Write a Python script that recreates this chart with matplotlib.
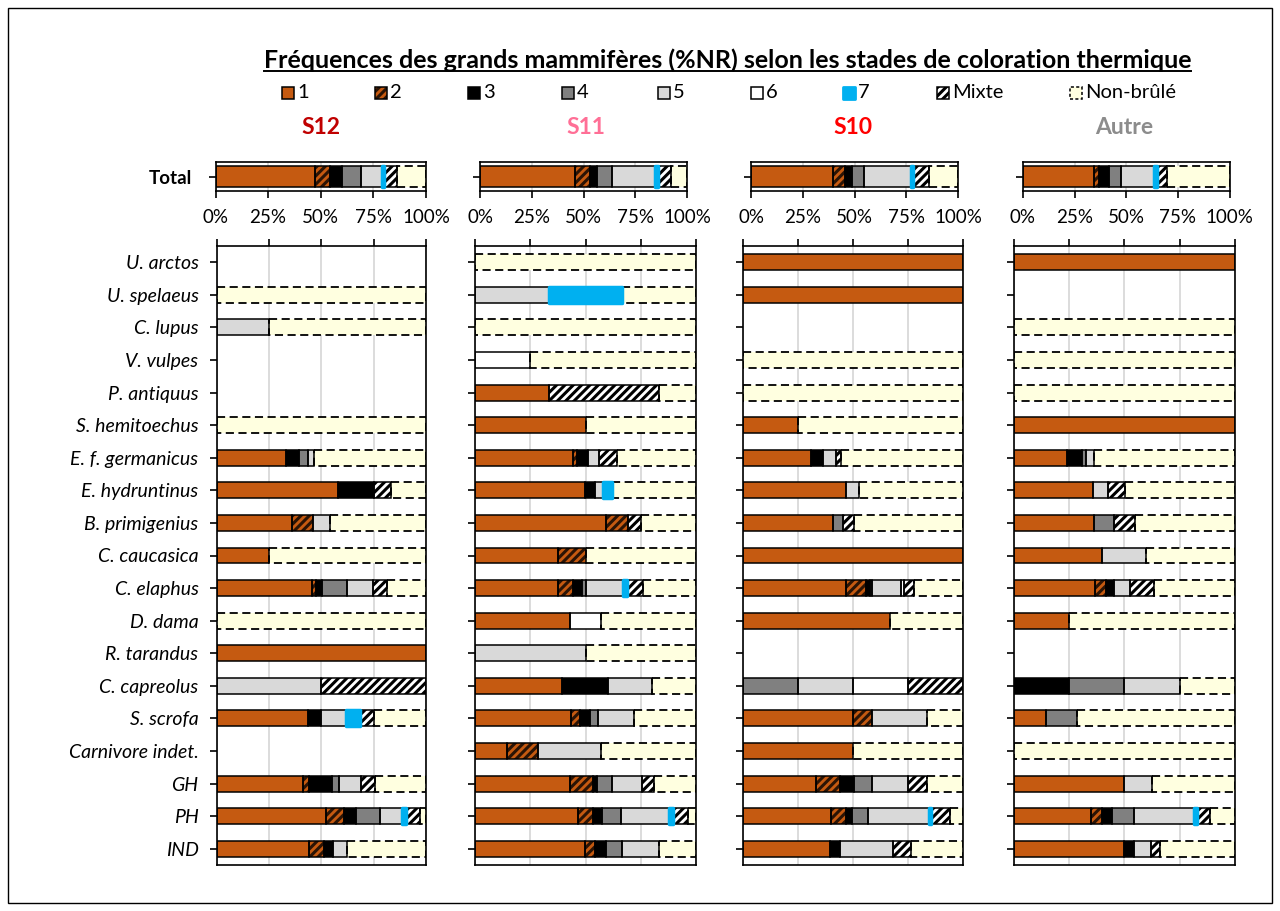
import numpy as np
import matplotlib
matplotlib.use('Agg')
import matplotlib.pyplot as plt
from matplotlib.patches import Rectangle
from matplotlib.lines import Line2D

plt.rcParams['font.family'] = ['Lato', 'DejaVu Sans']
plt.rcParams['hatch.linewidth'] = 2.2

# Stades de coloration thermique
stages = ['1', '2', '3', '4', '5', '6', '7', 'Mixte', 'Non-brûlé']

taxa = ['U. arctos', 'U. spelaeus', 'C. lupus', 'V. vulpes', 'P. antiquus',
        'S. hemitoechus', 'E. f. germanicus', 'E. hydruntinus', 'B. primigenius',
        'C. caucasica', 'C. elaphus', 'D. dama', 'R. tarandus', 'C. capreolus',
        'S. scrofa', 'Carnivore indet.', 'GH', 'PH', 'IND']

panels = ['S12', 'S11', 'S10', 'Autre']
panel_colors = ['#C00000', '#FF6F96', '#FF0000', '#8C8C8C']

# %NR par stade : 1, 2, 3, 4, 5, 6, 7, Mixte, Non-brûlé
total_s12 = [47.5, 7.0, 5.6, 9.0, 9.8, 0, 1.3, 6.1, 13.7]
total_s11 = [45.7, 7.2, 3.7, 7.2, 20.5, 0, 1.7, 6.0, 8.0]
total_s10 = [39.6, 5.8, 3.3, 5.8, 22.9, 0, 1.0, 7.5, 14.1]
total_autre = [34.5, 2.2, 5.0, 5.8, 15.8, 0, 1.7, 4.7, 30.3]

s12 = [
    [0, 0, 0, 0, 0, 0, 0, 0, 0],
    [0, 0, 0, 0, 0, 0, 0, 0, 100],
    [0, 0, 0, 0, 25, 0, 0, 0, 75],
    [0, 0, 0, 0, 0, 0, 0, 0, 0],
    [0, 0, 0, 0, 0, 0, 0, 0, 0],
    [0, 0, 0, 0, 0, 0, 0, 0, 100],
    [33.3, 0, 6.1, 4.5, 2.6, 0, 0, 0, 53.5],
    [57.9, 0, 17.5, 0, 0, 0, 0, 7.9, 16.7],
    [36.1, 9.8, 0, 0, 8.2, 0, 0, 0, 45.9],
    [25, 0, 0, 0, 0, 0, 0, 0, 75],
    [45.5, 1.9, 2.9, 12.0, 12.4, 0, 0, 6.7, 18.6],
    [0, 0, 0, 0, 0, 0, 0, 0, 100],
    [100, 0, 0, 0, 0, 0, 0, 0, 0],
    [0, 0, 0, 0, 50, 0, 0, 50, 0],
    [43.5, 0, 6.5, 0, 12.0, 0, 6.5, 6.5, 25],
    [0, 0, 0, 0, 0, 0, 0, 0, 0],
    [41.1, 3.2, 11.0, 3.3, 10.2, 0, 0, 6.9, 24.3],
    [52.2, 8.5, 6.1, 11.2, 10.7, 0, 1.6, 6.9, 2.8],
    [44.0, 7.3, 4.5, 0, 6.7, 0, 0, 0, 37.5],
]

s11 = [
    [0, 0, 0, 0, 0, 0, 0, 0, 100],
    [0, 0, 0, 0, 33.3, 0, 33.3, 0, 33.4],
    [0, 0, 0, 0, 0, 0, 0, 0, 100],
    [0, 0, 0, 0, 0, 25, 0, 0, 75],
    [33.3, 0, 0, 0, 0, 0, 0, 50, 16.7],
    [50, 0, 0, 0, 0, 0, 0, 0, 50],
    [44.4, 1.8, 5.0, 0, 4.7, 0, 0, 8.5, 35.6],
    [49.7, 0, 4.5, 0, 3.8, 0, 4.2, 0, 37.8],
    [59.5, 9.8, 0, 0, 0, 0, 0, 5.8, 24.9],
    [37.5, 12.5, 0, 0, 0, 0, 0, 0, 50],
    [37.6, 6.8, 4.2, 1.5, 17.0, 0, 1.5, 7.3, 24.1],
    [42.9, 0, 0, 0, 0, 14.3, 0, 0, 42.8],
    [0, 0, 0, 0, 50, 0, 0, 0, 50],
    [39.4, 0, 20.9, 0, 19.7, 0, 0, 0, 20],
    [43.6, 3.8, 4.5, 3.8, 16.2, 0, 0, 0, 28.1],
    [14.3, 14.3, 0, 0, 28.6, 0, 0, 0, 42.8],
    [42.9, 10.6, 1.5, 7.1, 13.6, 0, 0, 5.5, 18.8],
    [46.4, 7.1, 3.8, 8.8, 21.5, 0, 1.8, 7.0, 3.6],
    [49.7, 4.5, 5.3, 7.1, 16.7, 0, 0, 0, 16.7],
]

s10 = [
    [100, 0, 0, 0, 0, 0, 0, 0, 0],
    [100, 0, 0, 0, 0, 0, 0, 0, 0],
    [0, 0, 0, 0, 0, 0, 0, 0, 0],
    [0, 0, 0, 0, 0, 0, 0, 0, 100],
    [0, 0, 0, 0, 0, 0, 0, 0, 100],
    [25, 0, 0, 0, 0, 0, 0, 0, 75],
    [30.7, 0, 5.5, 0, 6.1, 0, 0, 2.1, 55.6],
    [46.8, 0, 0, 0, 5.6, 0, 0, 0, 47.6],
    [40.7, 0, 0, 4.6, 0, 0, 0, 4.9, 49.8],
    [100, 0, 0, 0, 0, 0, 0, 0, 0],
    [46.8, 9.1, 1.5, 1.2, 13.1, 1.5, 0, 4.3, 22.5],
    [66.7, 0, 0, 0, 0, 0, 0, 0, 33.3],
    [0, 0, 0, 0, 0, 0, 0, 0, 0],
    [0, 0, 0, 25, 25, 25, 0, 25, 0],
    [49.8, 8.7, 0, 0, 24.8, 0, 0, 0, 16.7],
    [50, 0, 0, 0, 0, 0, 0, 0, 50],
    [33.1, 10.9, 6.1, 8.4, 16.4, 0, 0, 8.7, 16.4],
    [39.8, 7.0, 2.6, 7.3, 27.7, 0, 0.8, 8.7, 6.1],
    [39.5, 0, 4.6, 0, 24.0, 0, 0, 7.9, 24.0],
]

autre = [
    [100, 0, 0, 0, 0, 0, 0, 0, 0],
    [0, 0, 0, 0, 0, 0, 0, 0, 0],
    [0, 0, 0, 0, 0, 0, 0, 0, 100],
    [0, 0, 0, 0, 0, 0, 0, 0, 100],
    [0, 0, 0, 0, 0, 0, 0, 0, 100],
    [100, 0, 0, 0, 0, 0, 0, 0, 0],
    [24.2, 0, 6.5, 1.8, 3.9, 0, 0, 0, 63.6],
    [35.6, 0, 0, 0, 7.0, 0, 0, 7.6, 49.8],
    [36.4, 0, 0, 8.8, 0, 0, 0, 9.4, 45.4],
    [40, 0, 0, 0, 20, 0, 0, 0, 40],
    [36.8, 5.0, 3.3, 0, 7.3, 0, 0, 10.9, 36.7],
    [25, 0, 0, 0, 0, 0, 0, 0, 75],
    [0, 0, 0, 0, 0, 0, 0, 0, 0],
    [0, 0, 25, 25, 25, 0, 0, 0, 25],
    [14.3, 0, 0, 14.3, 0, 0, 0, 0, 71.4],
    [0, 0, 0, 0, 0, 0, 0, 0, 100],
    [50, 0, 0, 0, 12.6, 0, 0, 0, 37.4],
    [35.0, 4.8, 4.8, 9.8, 27.0, 0, 1.5, 5.8, 11.3],
    [50, 0, 4.2, 0, 8.0, 0, 0, 4.1, 33.7],
]

totals = [total_s12, total_s11, total_s10, total_autre]
details = [s12, s11, s10, autre]

# styles des stades
faces = ['#C55A11', '#C55A11', '#000000', '#808080', '#D9D9D9', '#FFFFFF', '#00B0F0', '#FFFFFF', '#FFFFE0']
hatches = [None, '////', None, None, None, None, None, '////', None]
hatch_cols = [None, '#2B1405', None, None, None, None, None, '#000000', None]
dash = (0, (4.5, 2.5))


def segment(ax, y, left, w, k, h):
    if k == 6:
        ax.add_patch(Rectangle((left, y - h / 2), w, h, facecolor=faces[k], edgecolor=faces[k],
                               linewidth=2.5, joinstyle='round', zorder=5))
        return
    ax.add_patch(Rectangle((left, y - h / 2), w, h, facecolor=faces[k], linewidth=0, zorder=2))
    if hatches[k]:
        ax.add_patch(Rectangle((left, y - h / 2), w, h, facecolor='none', edgecolor=hatch_cols[k],
                               hatch=hatches[k], linewidth=0, zorder=3))
    ls = dash if k == 8 else '-'
    ax.add_patch(Rectangle((left, y - h / 2), w, h, facecolor='none', edgecolor='black',
                           linewidth=1.3 if k == 8 else 1.1, linestyle=ls, zorder=4))


def draw_row(ax, y, row, h):
    left = 0
    for k, v in enumerate(row):
        if v > 0:
            segment(ax, y, left, v, k, h)
        left += v


fig = plt.figure(figsize=(12.8, 9.11), dpi=100)
W, H = 1280, 911

top_pos = [(215.5, 425.9), (480.3, 687.2), (751.4, 958.0), (1022.8, 1229.7)]
bot_pos = [(216.5, 425.9), (475.0, 696.0), (743.4, 963.4), (1014.0, 1234.8)]

for p in range(4):
    # Total
    x0, x1 = top_pos[p]
    axt = fig.add_axes([x0 / W, 1 - 191 / H, (x1 - x0) / W, 29 / H])
    draw_row(axt, 0, totals[p], 0.72)
    axt.set_xlim(0, 100)
    axt.set_ylim(-0.5, 0.5)
    axt.set_xticks([0, 25, 50, 75, 100])
    axt.set_xticklabels(['0%', '25%', '50%', '75%', '100%'])
    axt.set_yticks([0])
    axt.set_yticklabels(['Total'] if p == 0 else [''])
    for lab in axt.get_yticklabels():
        lab.set_fontweight('bold')
    axt.tick_params(axis='x', direction='out', length=5, width=1.2, labelsize=13.5, pad=8)
    axt.tick_params(axis='y', direction='out', length=5, width=1.2, labelsize=13.5, pad=12)
    axt.set_axisbelow(True)
    axt.grid(axis='x', color='#D9D9D9', linewidth=1.3)
    for s in axt.spines.values():
        s.set_linewidth(1.2)

    # Taxons
    x0, x1 = bot_pos[p]
    axb = fig.add_axes([x0 / W, 1 - 865 / H, (x1 - x0) / W, 619 / H])
    ypos = np.arange(len(taxa))
    for i, row in enumerate(details[p]):
        draw_row(axb, ypos[i], row, 0.49)
    axb.set_xlim(0, 100)
    axb.set_ylim(len(taxa) - 0.5, -0.5)
    axb.set_xticks([0, 25, 50, 75, 100])
    axb.xaxis.tick_top()
    axb.tick_params(axis='x', direction='out', length=5, width=1.2, labeltop=False)
    axb.set_yticks(ypos)
    axb.set_yticklabels(taxa if p == 0 else [''] * len(taxa), fontstyle='italic')
    axb.tick_params(axis='y', direction='out', length=5, width=1.2, labelsize=14, pad=8)
    axb.set_axisbelow(True)
    axb.grid(axis='x', color='#D9D9D9', linewidth=1.3)
    for s in axb.spines.values():
        s.set_linewidth(1.2)

    # Nom du secteur
    fig.text((bot_pos[p][0] + bot_pos[p][1]) / 2 / W, 1 - 128 / H, panels[p], color=panel_colors[p],
             fontsize=16.5, fontweight='bold', ha='center', va='center')

# Légende
leg_x = [288, 381, 474, 568, 664, 757, 849, 943, 1076]
sq = 12
for k, lab in enumerate(stages):
    xs = leg_x[k] - sq / 2
    ys = 1 - 99 / H
    tr = fig.transFigure
    if k == 6:
        fig.add_artist(Rectangle((xs / W, ys), sq / W, sq / H, facecolor=faces[k], edgecolor=faces[k],
                                 linewidth=2, joinstyle='round', transform=tr))
    else:
        fig.add_artist(Rectangle((xs / W, ys), sq / W, sq / H, facecolor=faces[k], linewidth=0, transform=tr))
        if hatches[k]:
            fig.add_artist(Rectangle((xs / W, ys), sq / W, sq / H, facecolor='none', edgecolor=hatch_cols[k],
                                     hatch='////', linewidth=0, transform=tr))
        fig.add_artist(Rectangle((xs / W, ys), sq / W, sq / H, facecolor='none', edgecolor='black',
                                 linewidth=1.1, linestyle=(0, (2, 1.5)) if k == 8 else '-', transform=tr))
    fig.text((leg_x[k] + 9) / W, 1 - 93 / H, lab, fontsize=14.5, ha='left', va='center')

# Titre souligné
title = fig.text(727.5 / W, 1 - 60 / H, 'Fréquences des grands mammifères (%NR) selon les stades de coloration thermique',
                 fontsize=18, fontweight='bold', ha='center', va='center')
fig.canvas.draw()
bb = title.get_window_extent(fig.canvas.get_renderer())
fig.add_artist(Line2D([bb.x0 / W, bb.x1 / W], [(bb.y0 + 1) / H, (bb.y0 + 1) / H], color='black',
                      linewidth=1.4, transform=fig.transFigure))

# Cadre
fig.add_artist(Rectangle((8 / W, 8 / H), 1264 / W, 895 / H, facecolor='none', edgecolor='black',
                         linewidth=1, transform=fig.transFigure))

fig.savefig('out.png', dpi=100)
